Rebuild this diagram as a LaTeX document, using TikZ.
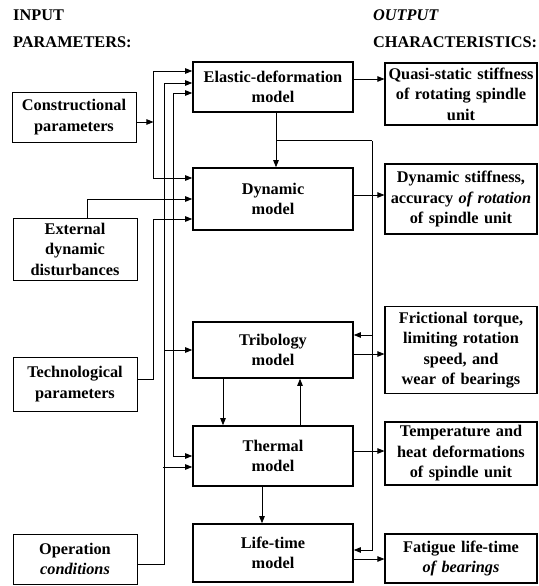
\documentclass[tikz,border=0pt]{standalone}
\usepackage{fontspec}
\setmainfont{Liberation Serif}
\usetikzlibrary{arrows.meta}

\begin{document}
\begin{tikzpicture}[x=1pt, y=1pt, >={Triangle[length=7pt,width=5.5pt]},
    font=\fontsize{16.3}{20.5}\selectfont\bfseries,
    model/.style={draw, line width=1.6pt, minimum width=160pt, text width=152pt, align=center, inner sep=1pt},
    inbox/.style={draw, line width=0.9pt, minimum width=124pt, text width=118pt, align=center, inner sep=1pt},
    outbox/.style={draw, line width=1.2pt, minimum width=152pt, text width=148pt, align=center, inner sep=1pt},
    head/.style={anchor=base west, inner sep=0pt},
    link/.style={line width=0.8pt}]
    \useasboundingbox (0,0) rectangle (538,-586);

    % column headings
    \node[head] (inhead1) at (13,-21) {INPUT};
    \node[head] (inhead2) at (13,-48) {PARAMETERS:};
    \node[head] (outhead1) at (373,-21) {\textit{OUTPUT}};
    \node[head] (outhead2) at (373,-48) {CHARACTERISTICS:};

    % input parameters
    \node[inbox, minimum height=50pt] (constructional) at (74,-117) {Constructional\\parameters};
    \node[inbox, minimum height=62pt] (external) at (75,-249) {External\\dynamic\\disturbances};
    \node[inbox, minimum height=54pt] (technological) at (75,-384) {Technological\\parameters};
    \node[inbox, minimum height=50pt] (operation) at (75,-559) {Operation\\\textit{conditions}};

    % models
    \node[model, minimum height=50pt] (elastic) at (273,-87) {Elastic-deformation\\model};
    \node[model, minimum height=62pt] (dynamic) at (273,-199) {Dynamic\\model};
    \node[model, minimum height=56pt] (tribology) at (273,-350) {Tribology\\model};
    \node[model, minimum height=60pt] (thermal) at (273,-456) {Thermal\\model};
    \node[model, minimum height=58pt] (lifetime) at (273,-553) {Life-time\\model};

    % output characteristics
    \node[outbox, minimum height=62pt] (quasi) at (461,-94) {Quasi-static stiffness\\of rotating spindle\\unit};
    \node[outbox, minimum height=70pt] (dynstiff) at (461,-199) {Dynamic stiffness,\\accuracy \textit{of rotation}\\of spindle unit};
    \node[outbox, minimum height=87pt] (friction) at (461,-350) {Frictional torque,\\limiting rotation\\speed, and\\wear of bearings};
    \node[outbox, minimum height=63pt] (temperature) at (461,-453.5) {Temperature and\\heat deformations\\of spindle unit};
    \node[outbox, minimum height=49pt] (fatigue) at (461,-558.5) {Fatigue life-time\\\textit{of bearings}};

    % inputs into the models
    \draw[link, ->] ([yshift=-5pt]constructional.east) -- ++(17,0) coordinate (cbus);
    \draw[link, ->] (cbus) |- ([yshift=16pt]elastic.west);
    \draw[link, ->] (cbus) |- ([yshift=21pt]dynamic.west);
    \draw[link, ->] ([xshift=12pt]external.north) |- (dynamic.west);
    \draw[link, ->] ([yshift=5pt]technological.east) -- ++(16,0) |- ([yshift=-20pt]dynamic.west);
    \draw[link, ->] ([yshift=-5pt]operation.east) -- ++(27,0) coordinate (obus) |- ([yshift=4pt]elastic.west);
    \draw[link, ->] (obus |- tribology.west) -- (tribology.west);
    \draw[link, <-] ([yshift=-11pt]thermal.west) -- ++(-29,0);
    \draw[link, <->] ([yshift=-6pt]elastic.west) -- ++(-19,0) |- (thermal.west);

    % links between the models
    \draw[link, ->] ([xshift=3pt]elastic.south) -- ([xshift=3pt]dynamic.north);
    \draw[link] ([xshift=3pt]elastic.south) ++(0,-28) -- ++(96,0) coordinate (rbus);
    \draw[link, ->] (rbus) |- ([yshift=3pt]lifetime.east);
    \draw[link, <-] ([yshift=15pt]tribology.east) -- ++(19,0);
    \draw[link, ->] ([xshift=-50pt]tribology.south) -- ([xshift=-50pt]thermal.north);
    \draw[link, ->] ([xshift=27pt]thermal.north) -- ([xshift=27pt]tribology.south);
    \draw[link, ->] ([xshift=-11pt]thermal.south) -- ([xshift=-11pt]lifetime.north);

    % outputs
    \draw[link, ->] ([yshift=8pt]elastic.east) -- ([yshift=15pt]quasi.west);
    \draw[link, ->] ([yshift=4pt]dynamic.east) -- ([yshift=4pt]dynstiff.west);
    \draw[link, ->] ([yshift=-4pt]tribology.east) -- ([yshift=-4pt]friction.west);
    \draw[link, ->] ([yshift=5pt]thermal.east) -- ([yshift=2.5pt]temperature.west);
    \draw[link, ->] ([yshift=-6pt]lifetime.east) -- ([yshift=-0.5pt]fatigue.west);
\end{tikzpicture}
\end{document}
